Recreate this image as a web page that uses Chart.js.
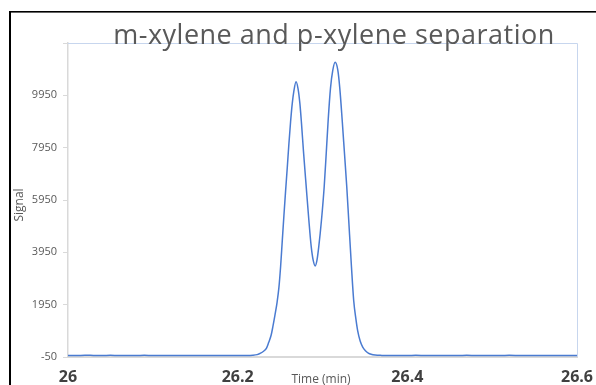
<!DOCTYPE html>
<html>
<head>
<meta charset="utf-8">
<title>m-xylene and p-xylene separation</title>
<script src="https://cdn.jsdelivr.net/npm/chart.js@4/dist/chart.umd.min.js"></script>
<style>
    html, body { margin: 0; padding: 0; background: #ffffff; }
    #wrap { position: relative; width: 596px; height: 385px; overflow: hidden; }
</style>
</head>
<body>
<div id="wrap"><canvas id="chromatogram" width="596" height="385"></canvas></div>
<script>
// Chart data
const chartTitle = 'm-xylene and p-xylene separation';
const xTitle = 'Time (min)';
const yTitle = 'Signal';

const times = [
    26.000, 26.010, 26.020, 26.030, 26.040, 26.050, 26.060, 26.070, 26.080, 26.090,
    26.100, 26.110, 26.120, 26.130, 26.140, 26.150, 26.160, 26.170, 26.180, 26.190,
    26.200, 26.210, 26.218, 26.223, 26.227, 26.2305, 26.234, 26.2365, 26.2395, 26.2415,
    26.2440, 26.2465, 26.2486, 26.2506, 26.2525, 26.2545, 26.2565, 26.2585, 26.2604, 26.2624,
    26.2644, 26.2662, 26.2688, 26.2712, 26.2733, 26.2753, 26.2776, 26.2808, 26.2839, 26.2867,
    26.2890, 26.2914, 26.2935, 26.2956, 26.2988, 26.3020, 26.3044, 26.3067, 26.3094, 26.3121,
    26.3149, 26.3180, 26.3204, 26.3232, 26.3259, 26.3286, 26.3309, 26.3341, 26.3368, 26.3394,
    26.3415, 26.3444, 26.3474, 26.3506, 26.3540, 26.3573, 26.3620, 26.370, 26.380, 26.390,
    26.400, 26.410, 26.420, 26.430, 26.440, 26.450, 26.460, 26.470, 26.480, 26.490,
    26.500, 26.510, 26.520, 26.530, 26.540, 26.550, 26.560, 26.570, 26.580, 26.590,
    26.600
];
const signal = [
    12, 8, 15, 10, 6, 14, 9, 11, 5, 13,
    8, 10, 7, 12, 9, 6, 11, 8, 10, 7,
    12, 9, 16, 40, 95, 170, 290, 500, 790, 1110,
    1560, 2050, 2600, 3400, 4350, 5350, 6300, 7200, 8100, 8950,
    9650, 10100, 10470, 10200, 9650, 8850, 7800, 6459, 5186, 4167,
    3650, 3430, 3650, 4167, 5186, 6459, 7734, 9007, 10217, 10900,
    11210, 10920, 10217, 9007, 7734, 6459, 5186, 3420, 2100, 1400,
    950, 560, 330, 190, 100, 55, 25, 12, 8, 11,
    7, 13, 9, 6, 12, 10, 8, 14, 9, 7,
    11, 8, 13, 10, 6, 12, 9, 11, 7, 10,
    12
];

const xTicks = [26, 26.2, 26.4, 26.6];
const yTicks = [-50, 1950, 3950, 5950, 7950, 9950, 11950];

document.addEventListener('DOMContentLoaded', function() {
    const ctx = document.getElementById('chromatogram');

    // Frame, plot border and free text that Excel placed by hand
    const decorations = {
        id: 'decorations',
        beforeDraw(chart) {
            const c = chart.ctx;
            c.save();
            c.fillStyle = '#ffffff';
            c.fillRect(0, 0, chart.width, chart.height);
            c.fillStyle = '#000000';
            c.fillRect(9, 11, 2, chart.height - 11);
            c.fillRect(9, 11, chart.width - 9, 1.6);
            c.restore();
        },
        beforeDatasetsDraw(chart) {
            const a = chart.chartArea;
            const c = chart.ctx;
            c.save();
            c.strokeStyle = '#c7d6ee';
            c.lineWidth = 1;
            c.beginPath();
            c.moveTo(a.left, a.top + 0.5);
            c.lineTo(a.right + 0.5, a.top + 0.5);
            c.lineTo(a.right + 0.5, a.bottom);
            c.stroke();
            c.restore();
        },
        afterDraw(chart) {
            const c = chart.ctx;
            c.save();
            c.fillStyle = '#595959';
            c.textAlign = 'center';

            c.font = '27px "Open Sans"';
            c.letterSpacing = '0.5px';
            c.textBaseline = 'alphabetic';
            c.fillText(chartTitle, 334, 44);
            c.letterSpacing = '0px';

            c.font = '12px "Open Sans"';
            c.textBaseline = 'middle';
            c.fillText(xTitle, 321, 380);

            c.translate(20, 205);
            c.rotate(-Math.PI / 2);
            c.fillText(yTitle, 0, 0);
            c.restore();
        }
    };

    new Chart(ctx, {
        type: 'line',
        data: {
            datasets: [{
                label: 'Signal',
                data: times.map((t, i) => ({ x: t, y: signal[i] })),
                borderColor: '#4a7bd1',
                borderWidth: 1.5,
                pointRadius: 0,
                fill: false,
                cubicInterpolationMode: 'monotone'
            }]
        },
        options: {
            responsive: false,
            animation: false,
            devicePixelRatio: 1,
            layout: {
                padding: { left: 10, top: 43, right: 19, bottom: 0 }
            },
            plugins: {
                legend: { display: false },
                title: { display: false },
                tooltip: { enabled: false }
            },
            scales: {
                x: {
                    type: 'linear',
                    min: xTicks[0],
                    max: xTicks[xTicks.length - 1],
                    afterBuildTicks: function(scale) {
                        scale.ticks = xTicks.map(v => ({ value: v }));
                    },
                    afterFit: function(scale) {
                        // the last label is allowed to run off the edge, as in the original
                        scale.height = 28;
                        scale.paddingLeft = 0;
                        scale.paddingRight = 0;
                    },
                    ticks: {
                        maxRotation: 0,
                        padding: 11,
                        color: '#404040',
                        font: { family: '"Open Sans"', size: 16, weight: 'bold' },
                        callback: v => String(v)
                    },
                    grid: { display: true, drawOnChartArea: false, drawTicks: false },
                    border: { color: '#d9d9d9', width: 2 }
                },
                y: {
                    min: yTicks[0],
                    max: yTicks[yTicks.length - 1],
                    afterBuildTicks: function(scale) {
                        scale.ticks = yTicks.map(v => ({ value: v }));
                    },
                    afterFit: function(scale) {
                        scale.width = 58;
                        scale.paddingTop = 0;
                        scale.paddingBottom = 0;
                    },
                    ticks: {
                        padding: 6,
                        color: '#595959',
                        font: { family: '"Open Sans"', size: 11 },
                        callback: v => (v === 11950 ? '' : String(v))
                    },
                    grid: {
                        display: true,
                        drawOnChartArea: false,
                        drawTicks: true,
                        tickLength: 5,
                        color: '#d9d9d9'
                    },
                    border: { color: '#d9d9d9', width: 1.5 }
                }
            }
        },
        plugins: [decorations]
    });
});
</script>
</body>
</html>
